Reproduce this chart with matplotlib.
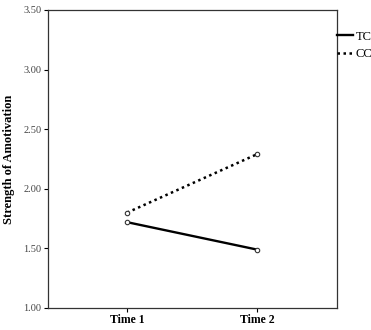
import matplotlib
matplotlib.use("Agg")
import matplotlib.pyplot as plt

times = ["Time 1", "Time 2"]
tc_values = [1.72, 1.49]
cc_values = [1.80, 2.29]
series_names = ["TC", "CC"]
yticks = [1.00, 1.50, 2.00, 2.50, 3.00, 3.50]

plt.rcParams['font.family'] = ['Liberation Serif', 'DejaVu Serif']

fig = plt.figure(figsize=(3.71, 3.30), dpi=100)
ax = fig.add_axes([0.129, 0.0667, 0.779, 0.903])

x = list(range(1, len(times) + 1))
ax.plot(x, tc_values, color='black', lw=1.7, ls='-', marker='o', ms=3.2,
        mfc='white', mec='#333333', mew=0.8, label=series_names[0])
ax.plot(x, cc_values, color='black', lw=1.8, ls=(0, (1, 1.4)), marker='o', ms=3.2,
        mfc='white', mec='#333333', mew=0.8, label=series_names[1])

ax.set_xlim(0.39, 2.615)
ax.set_ylim(1.0, 3.5)
ax.set_xticks(x)
ax.set_xticklabels(times, fontsize=8.5, fontweight='bold')
ax.set_yticks(yticks)
ax.set_yticklabels([f"{v:.2f}" for v in yticks], fontsize=7.5, color='#444444')
ax.tick_params(axis='both', direction='out', length=3, width=0.8, pad=1.5)
ax.set_ylabel("Strength of Amotivation", fontsize=9, fontweight='bold', labelpad=6)
for s in ax.spines.values():
    s.set_linewidth(0.9)
    s.set_color('#333333')

ax.legend(loc='upper left', bbox_to_anchor=(1.0, 0.93), frameon=False,
          borderaxespad=0, borderpad=0, handlelength=1.3, handletextpad=0.2,
          labelspacing=0.45, fontsize=9, markerscale=0)

fig.savefig("out.png", dpi=100)
